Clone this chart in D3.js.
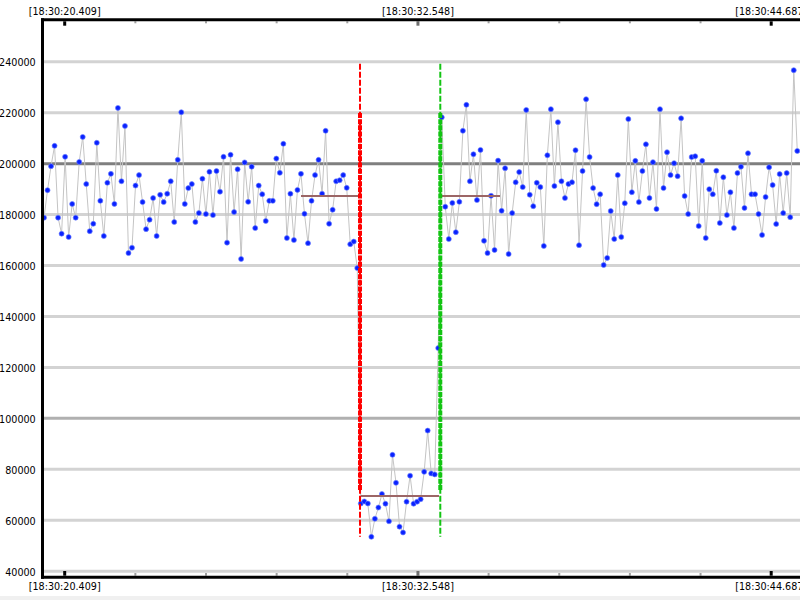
<!DOCTYPE html>
<html><head><meta charset="utf-8">
<script src="https://cdn.jsdelivr.net/npm/d3@7"></script>
<style>html,body{margin:0;padding:0;background:#fff;overflow:hidden}</style>
</head><body><svg id="chart" width="800" height="600"></svg>
<script>
// time of the first sample (seconds after 18:30:00) and sample period
const sampleStart = 19.715;
const sampleInterval = 0.12096;

const values = [
178600,189400,198800,206800,178600,172300,202500,171000,184000,178600,
200500,210300,191800,173300,176200,208000,185200,171400,192300,195800,
184000,221700,192900,214600,164700,166800,191200,195300,184700,174100,
177800,186300,171400,187600,184700,188000,192900,176900,201300,220000,
184000,190200,191800,176900,180400,193900,180000,196600,179600,196900,
188800,202500,168800,203300,180800,197600,162400,200300,184800,198600,
174500,191200,187800,177300,185200,185200,201800,196200,207600,170600,
188000,169800,189500,195800,180100,168600,185200,195300,201300,188000,
212700,176200,181700,192900,193300,195300,190300,168200,169200,158800,
66400,67200,66400,53300,60400,64800,70100,66300,59400,85500,
74500,57300,55000,67100,77300,66300,67100,68100,78800,95000,
78200,77800,127400,
218000,182900,170200,184400,172900,184800,212700,222900,192900,203500,
185500,205200,169500,164700,187200,165900,201000,181300,198000,164300,
180400,192500,196500,190600,220900,187600,183100,192300,190600,167500,
203100,221200,191000,216100,192900,186300,191800,192500,205100,167800,
196900,225100,202400,190200,183900,187800,160000,162800,181200,170200,
195300,171000,184300,217300,188600,200900,184700,196900,207400,186300,
200400,182000,221200,190200,204300,195300,200000,194900,217600,187100,
180000,202400,202700,175300,200900,170600,189800,187800,197000,176500,
194500,179600,188600,174500,196100,198600,182400,203900,187800,187800,
180000,171800,186700,198400,191400,176100,195700,180400,196100,178800,
236500,204800
];

const yTicks = [40000,60000,80000,100000,120000,140000,160000,180000,200000,220000,240000];
const majorTicks = [20.409, 32.548, 44.687];
const majorLabels = ["[18:30:20.409]","[18:30:32.548]","[18:30:44.687]"];
const minorTicks = [22.837,25.265,27.692,30.120,34.976,37.404,39.831,42.259];
const referenceValue = 200000;
const midGridValue = 100000;

// event markers (red = start, green = end)
const markerTimes = [30.574, 33.333];
const markerRange = [53300, 239000];
const markerCoreRange = [71700, 219700];

// segment averages
const meanStart = [28.546, 30.608, 33.392];
const meanEnd   = [30.539, 33.289, 35.385];
const meanValues = [187100, 69300, 187100];

// ---------- drawing ----------
const W = 800, H = 600;
const pLeft = 43, pRight = 800, pTop = 20, pBottom = 577.2;
const svg = d3.select("#chart");
const FONT = "'DejaVu Sans', Verdana, sans-serif";

svg.append("rect").attr("x",0).attr("y",596).attr("width",W).attr("height",4).attr("fill","#f0f0f0");

const x = d3.scaleLinear().domain([19.6805, 45.694]).range([pLeft, pRight]);
const y = d3.scaleLinear().domain([37450, 256200]).range([pBottom, pTop]);

svg.append("defs").append("clipPath").attr("id","plotclip")
  .append("rect").attr("x",pLeft).attr("y",pTop).attr("width",pRight-pLeft).attr("height",pBottom-pTop);

const plot = svg.append("g").attr("clip-path","url(#plotclip)");

// grid lines via axis
const grid = plot.append("g").attr("transform",`translate(${pLeft},0)`)
  .call(d3.axisLeft(y).tickValues(yTicks).tickSize(-(pRight-pLeft)).tickFormat(""));
grid.select(".domain").remove();
grid.selectAll(".tick line")
  .attr("stroke", d => d === referenceValue ? "#7f7f7f" : (d === midGridValue ? "#b0b0b0" : "#d3d3d3"))
  .attr("stroke-width", 3);

const data = values.map((v,i) => ({t: sampleStart + i*sampleInterval, v}));

plot.append("path").datum(data)
  .attr("fill","none").attr("stroke","#c4c4c4").attr("stroke-width",1)
  .attr("d", d3.line().x(d=>x(d.t)).y(d=>y(d.v)));

plot.append("g").selectAll("circle").data(data).join("circle")
  .attr("cx", d=>x(d.t)).attr("cy", d=>y(d.v)).attr("r", 2.5)
  .attr("fill","#0a22ff").attr("stroke","rgba(110,130,255,0.65)").attr("stroke-width",1);

// mean segments
plot.append("g").selectAll("line").data(meanValues).join("line")
  .attr("x1",(d,i)=>x(meanStart[i])).attr("x2",(d,i)=>x(meanEnd[i]))
  .attr("y1",d=>y(d)).attr("y2",d=>y(d))
  .attr("stroke","#9c6666").attr("stroke-width",2);

// markers
const markerColors = ["#ff0000","#12c412"];
markerTimes.forEach((t,i) => {
  plot.append("line").attr("x1",x(t)).attr("x2",x(t))
    .attr("y1",y(markerRange[1])).attr("y2",y(markerRange[0]))
    .attr("stroke",markerColors[i]).attr("stroke-width",2).attr("stroke-dasharray","6,2");
  plot.append("line").attr("x1",x(t)).attr("x2",x(t))
    .attr("y1",y(markerCoreRange[1])).attr("y2",y(markerCoreRange[0]))
    .attr("stroke",markerColors[i]).attr("stroke-width",4).attr("stroke-dasharray","5,1.2");
});

// y labels
const yAx = svg.append("g").attr("transform",`translate(${pLeft},0)`)
  .call(d3.axisLeft(y).tickValues(yTicks).tickSize(0).tickPadding(7.3).tickFormat(d3.format("d")));
yAx.select(".domain").remove();
yAx.selectAll("text").attr("font-family",FONT).attr("font-size","9.6px").attr("fill","#000").attr("dy","0.46em");

// top / bottom axes
function styleTicks(g, major) {
  g.select(".domain").remove();
  g.selectAll(".tick line")
    .attr("stroke", (d,i) => major ? (i === 1 ? "#6e6e6e" : "#000") : "#a0a0a0")
    .attr("stroke-width", major ? 3 : 2);
  g.selectAll("text").attr("font-family",FONT).attr("font-size","9.6px").attr("fill","#000");
}
const topY = 21.3, botY = 575.7;
svg.append("g").attr("transform",`translate(0,${topY})`)
  .call(d3.axisTop(x).tickValues(minorTicks).tickSize(-2).tickFormat(""))
  .call(g=>styleTicks(g,false));
svg.append("g").attr("transform",`translate(0,${topY})`)
  .call(d3.axisTop(x).tickValues(majorTicks).tickSize(-4.4).tickPadding(6.6).tickFormat((d,i)=>majorLabels[i]))
  .call(g=>styleTicks(g,true));
svg.append("g").attr("transform",`translate(0,${botY})`)
  .call(d3.axisBottom(x).tickValues(minorTicks).tickSize(-2.7).tickFormat(""))
  .call(g=>styleTicks(g,false));
svg.append("g").attr("transform",`translate(0,${botY})`)
  .call(d3.axisBottom(x).tickValues(majorTicks).tickSize(-4.7).tickPadding(7).tickFormat((d,i)=>majorLabels[i]))
  .call(g=>styleTicks(g,true));

// frame
svg.append("line").attr("x1",pLeft-0.5).attr("x2",pLeft-0.5).attr("y1",18.3).attr("y2",578.7).attr("stroke","#000").attr("stroke-width",3);
svg.append("line").attr("x1",41).attr("x2",W).attr("y1",19.8).attr("y2",19.8).attr("stroke","#000").attr("stroke-width",3);
svg.append("line").attr("x1",41).attr("x2",W).attr("y1",577.2).attr("y2",577.2).attr("stroke","#000").attr("stroke-width",3);
</script></body></html>
